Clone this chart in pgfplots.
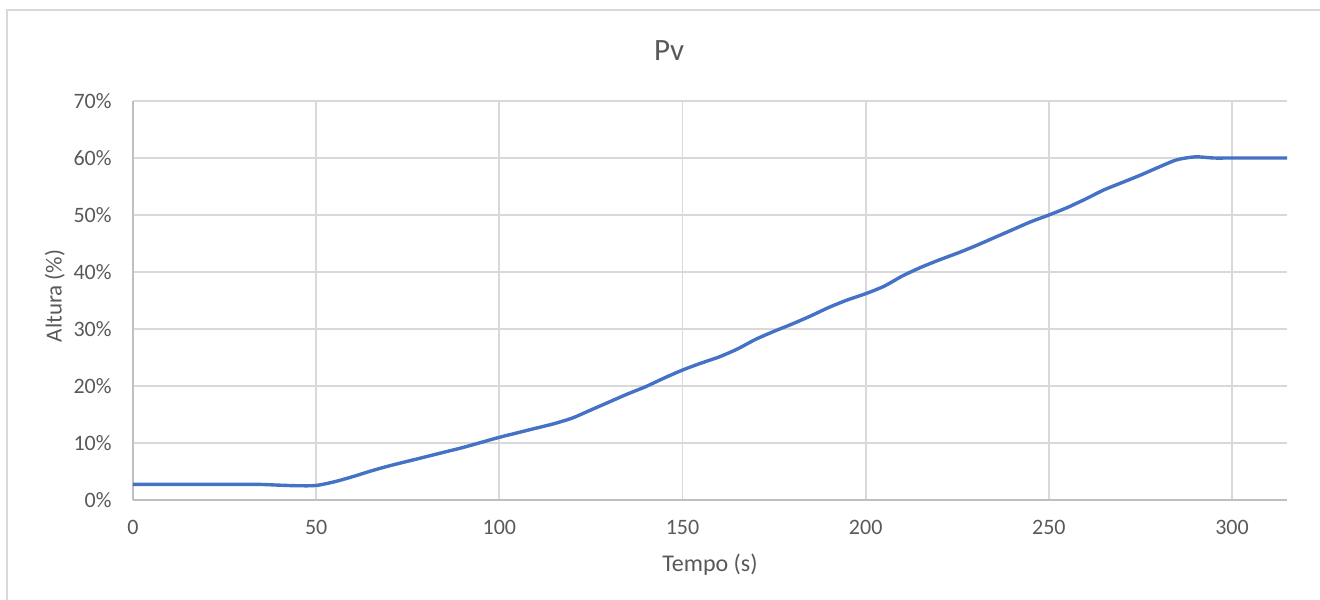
\documentclass[border=0pt]{standalone}
\usepackage{pgfplots}
\pgfplotsset{compat=1.18}
\usepackage{fontspec}
\setmainfont{Carlito}
\definecolor{txtgray}{HTML}{595959}
\definecolor{gridgray}{HTML}{D9D9D9}
\definecolor{axisgray}{HTML}{BFBFBF}
\definecolor{pvblue}{HTML}{4472C4}
\begin{document}
\begin{tikzpicture}
% page extent (1 px = 0.5pt, origin at the lower left of the plot area)
\useasboundingbox (-66.5pt,-49.5pt) rectangle (593.5pt,250pt);
% chart area frame
\draw[gridgray, line width=1pt] (-63pt,-60pt) -- (-63pt,245pt) -- (600pt,245pt);
\begin{axis}[
  at={(0pt,0pt)}, anchor=south west,
  scale only axis, width=577pt, height=199.5pt,
  xmin=0, xmax=315, ymin=0, ymax=70,
  axis x line*=bottom, axis y line*=left,
  axis line style={axisgray, line width=1pt, -},
  xtick={0,50,100,150,200,250,300},
  xticklabels={0,50,100,150,200,250,300},
  ytick={0,10,20,30,40,50,60,70},
  yticklabels={0\%,10\%,20\%,30\%,40\%,50\%,60\%,70\%},
  major tick length=0pt,
  grid=major,
  major grid style={gridgray, line width=0.9pt},
  tick label style={font=\fontsize{11}{13}\selectfont, text=txtgray},
  xticklabel style={anchor=center, inner sep=0pt, yshift=-13.5pt},
  yticklabel style={anchor=east, inner sep=0pt, xshift=-10.5pt},
  clip=false,
]
\addplot[pvblue, line width=1.7pt, smooth, tension=0.45] coordinates {
(0,2.75) (10,2.75) (20,2.75) (30,2.75) (35,2.73) (40,2.6) (45,2.5) (50,2.55)
(55,3.2) (60,4.1) (65,5.1) (70,6.0) (75,6.8) (80,7.6) (85,8.4) (90,9.2)
(95,10.1) (100,11.0) (105,11.8) (110,12.6) (115,13.4) (120,14.4) (125,15.8)
(130,17.2) (135,18.6) (140,19.9) (145,21.4) (150,22.8) (155,24.0) (160,25.1)
(165,26.5) (170,28.2) (175,29.6) (180,30.9) (185,32.3) (190,33.8) (195,35.1)
(200,36.2) (205,37.5) (210,39.3) (215,40.8) (220,42.1) (225,43.3) (230,44.6)
(235,46.0) (240,47.4) (245,48.8) (250,50.0) (255,51.3) (260,52.8) (265,54.4)
(270,55.7) (275,57.0) (280,58.4) (285,59.7) (290,60.2) (295,60.0) (300,60.0)
(315,60.0)
};
\end{axis}
% titles
\node[anchor=base, inner sep=0pt, text=txtgray, font=\fontsize{15.5}{18}\selectfont] at (268pt,219.5pt) {Pv};
\node[anchor=base, inner sep=0pt, text=txtgray, font=\fontsize{12}{14}\selectfont] at (288.5pt,-35.85pt) {Tempo (s)};
\node[anchor=base, rotate=90, inner sep=0pt, text=txtgray, font=\fontsize{11.5}{14}\selectfont] at (-35.65pt,102pt) {Altura (\%)};
\end{tikzpicture}
\end{document}
